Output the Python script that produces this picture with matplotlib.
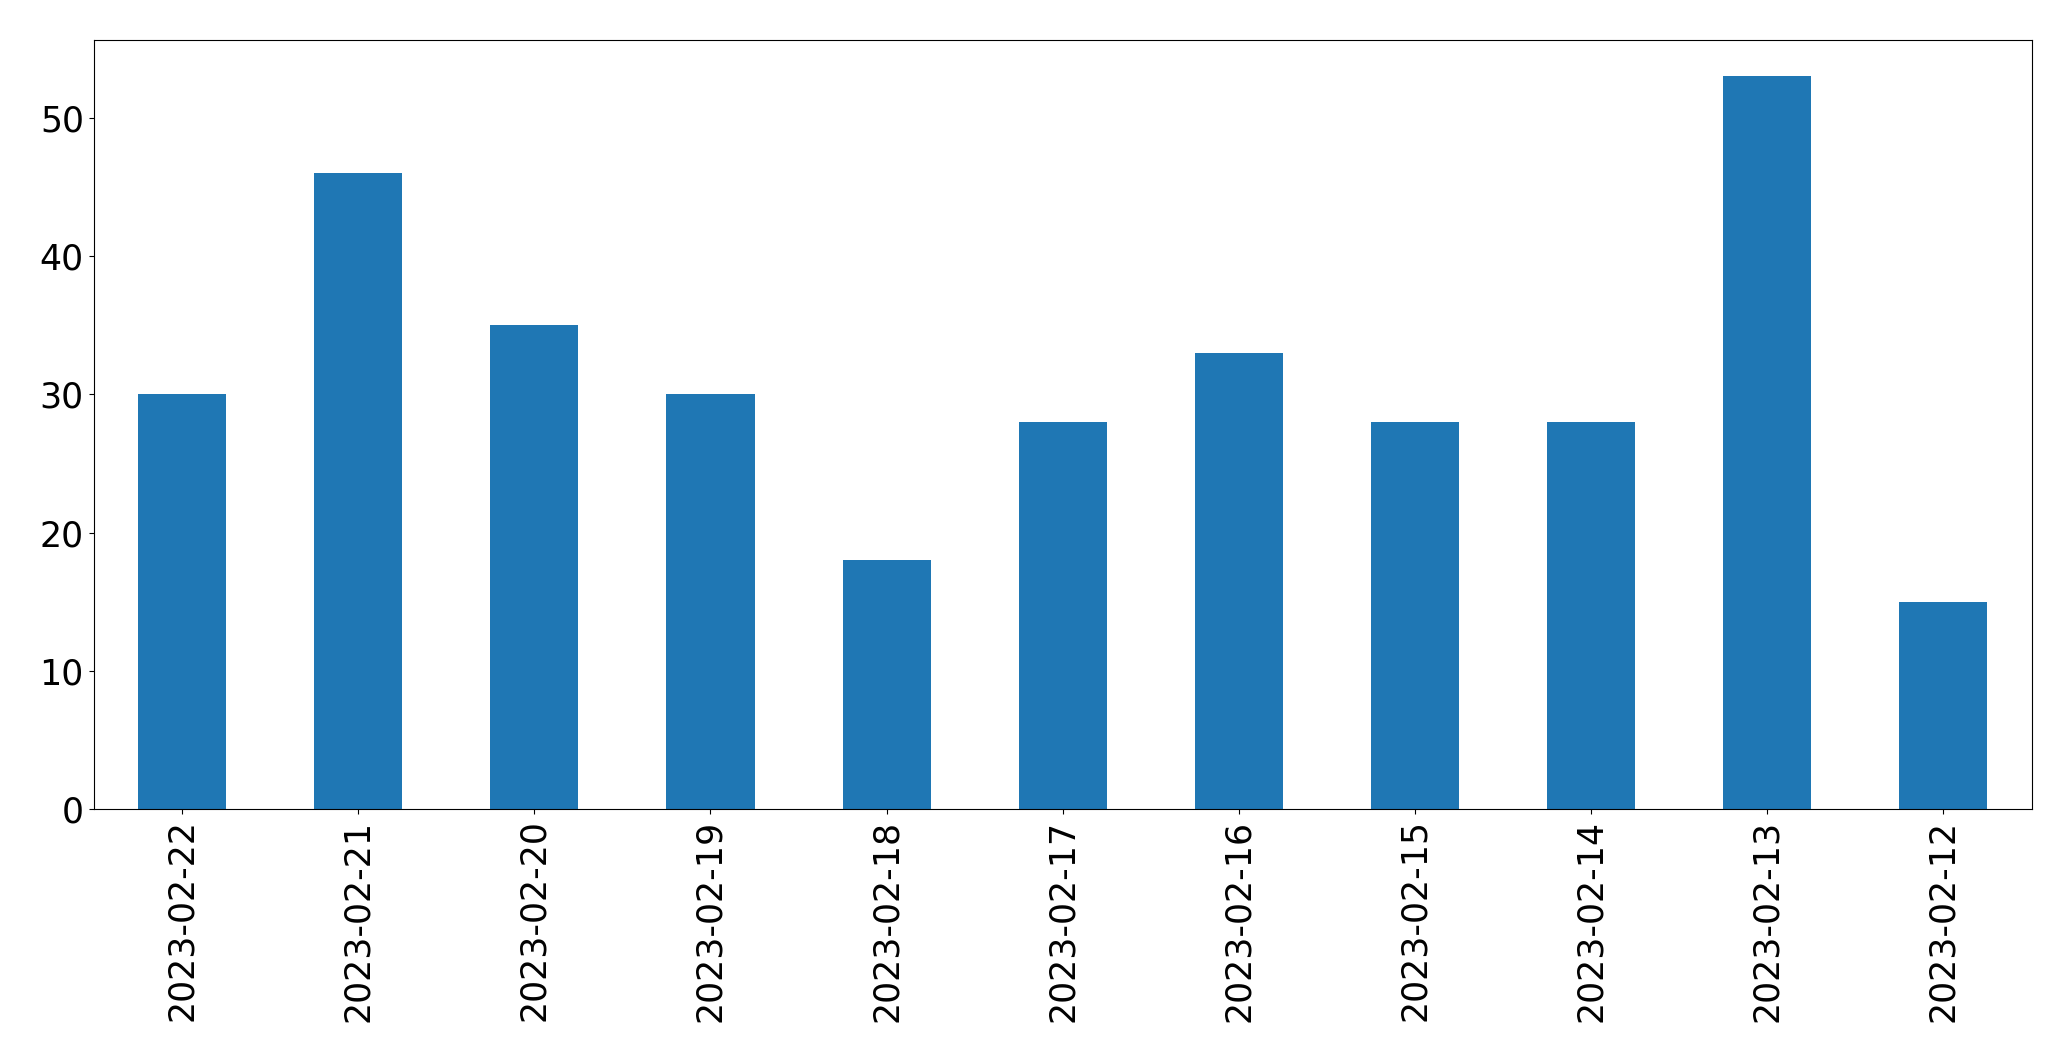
import numpy as np
import matplotlib
matplotlib.use('Agg')
import matplotlib.pyplot as plt

# Datos por fecha
fechas = ['2023-02-22', '2023-02-21', '2023-02-20', '2023-02-19', '2023-02-18',
          '2023-02-17', '2023-02-16', '2023-02-15', '2023-02-14', '2023-02-13',
          '2023-02-12']
conteos = [30, 46, 35, 30, 18, 28, 33, 28, 28, 53, 15]

fig = plt.figure(figsize=(20.71, 10.61), dpi=100)
ax = fig.add_axes([94 / 2071, 1 - 809.3 / 1061, (2031.5 - 94) / 2071, (809.3 - 39.5) / 1061])

x = np.arange(len(fechas))
ax.bar(x, conteos, width=0.5, color='#1f77b4')
ax.set_xlim(-0.5, len(fechas) - 0.5)
ax.set_ylim(0, max(conteos) * 1.05)
ax.set_xticks(x)
ax.set_xticklabels(fechas, rotation=90)
ax.tick_params(labelsize=25, length=3.8)

fig.savefig('out.png', dpi=100)
